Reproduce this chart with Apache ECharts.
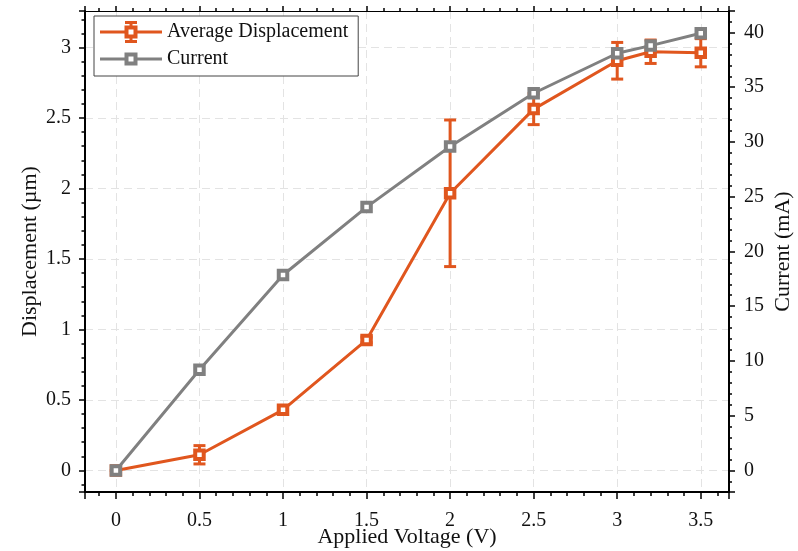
<!DOCTYPE html>
<html>
<head>
<meta charset="utf-8">
<script src="https://cdn.jsdelivr.net/npm/echarts@6/dist/echarts.min.js"></script>
<style>
html,body{margin:0;padding:0;background:#fff;}
#c{width:798px;height:551px;}
</style>
</head>
<body>
<div id="c"></div>
<script>
const voltage = [0, 0.5, 1, 1.5, 2, 2.5, 3, 3.2, 3.5];
const displacement = [0, 0.111, 0.43, 0.926, 1.966, 2.563, 2.906, 2.97, 2.963];
const displacementErr = [0, 0.065, 0.02, 0.02, 0.52, 0.11, 0.13, 0.083, 0.1];
const current = [0, 9.2, 17.85, 24.05, 29.58, 34.45, 38.1, 38.8, 39.93];
const xRange = [-0.185, 3.669];
const yLeftRange = [-0.153, 3.259];
const yRightRange = [-1.97, 41.96];

const ORANGE = '#E0561E';
const GRAY = '#808080';
const FONT = "'Liberation Serif', 'DejaVu Serif', serif";

// legend icons (line + open square, with error bar for displacement)
const ICON_ERR = 'path://' +
  'M0 9.5L24.5 9.5L24.5 12.5L0 12.5Z' +
  'M37.5 9.5L62 9.5L62 12.5L37.5 12.5Z' +
  'M29.5 3L32.5 3L32.5 4.5L29.5 4.5Z' +
  'M29.5 17.5L32.5 17.5L32.5 19L29.5 19Z' +
  'M25 0L37 0L37 3L25 3Z' +
  'M25 19L37 19L37 22L25 22Z' +
  'M24.5 4.5L37.5 4.5L37.5 17.5L24.5 17.5Z' +
  'M28.5 8.5L28.5 13.5L33.5 13.5L33.5 8.5Z';
const ICON_CUR = 'path://' +
  'M0 5L24.5 5L24.5 8L0 8Z' +
  'M37.5 5L62 5L62 8L37.5 8Z' +
  'M24.5 0L37.5 0L37.5 13L24.5 13Z' +
  'M28.5 4L28.5 9L33.5 9L33.5 4Z';

const chart = echarts.init(document.getElementById('c'), null, {renderer: 'canvas'});

const dispData = voltage.map((v, i) => [v, displacement[i]]);
const curData = voltage.map((v, i) => [v, current[i]]);
const errData = voltage.map((v, i) => [v, displacement[i] - displacementErr[i], displacement[i] + displacementErr[i]]);

const tickStyle = {color: '#000', width: 1.5};

chart.setOption({
  animation: false,
  backgroundColor: '#fff',
  grid: {left: 85, top: 11, width: 644, height: 481, show: false, containLabel: false, outerBoundsMode: 'none'},
  legend: {
    orient: 'vertical',
    left: 94, top: 16,
    width: 260,
    padding: [5, 10, 7, 6],
    itemGap: 6,
    itemWidth: 62, itemHeight: 22,
    symbolKeepAspect: true,
    borderColor: '#444', borderWidth: 1,
    backgroundColor: '#fff',
    textStyle: {fontFamily: FONT, fontSize: 20, color: '#111'},
    data: [
      {name: 'Average Displacement', icon: ICON_ERR, itemStyle: {color: ORANGE, borderWidth: 0}},
      {name: 'Current', icon: ICON_CUR, itemStyle: {color: GRAY, borderWidth: 0}}
    ]
  },
  xAxis: [{
    type: 'value', position: 'bottom',
    min: xRange[0], max: xRange[1], splitNumber: 8,
    name: 'Applied Voltage (V)', nameLocation: 'middle', nameGap: 34, nameMoveOverlap: false,
    nameTextStyle: {fontFamily: FONT, fontSize: 22, color: '#111'},
    axisLine: {show: true, onZero: false, lineStyle: {color: '#000', width: 2}},
    axisTick: {show: true, inside: false, length: 7, lineStyle: tickStyle},
    minorTick: {show: true, splitNumber: 5, length: 4, lineStyle: tickStyle},
    axisLabel: {show: true, margin: 19, showMinLabel: false, showMaxLabel: false,
      fontFamily: FONT, fontSize: 20, color: '#111'},
    splitLine: {show: true, lineStyle: {color: '#e3e3e3', width: 1, type: [8, 5]}}
  }, {
    type: 'value', position: 'top',
    min: xRange[0], max: xRange[1], splitNumber: 8,
    axisLine: {show: true, onZero: false, lineStyle: {color: '#000', width: 1}},
    axisTick: {show: true, inside: false, length: 5, lineStyle: tickStyle},
    minorTick: {show: true, splitNumber: 5, length: 3, lineStyle: tickStyle},
    axisLabel: {show: false},
    splitLine: {show: false}
  }],
  yAxis: [{
    type: 'value', position: 'left',
    min: yLeftRange[0], max: yLeftRange[1], splitNumber: 7,
    name: 'Displacement (µm)', nameLocation: 'middle', nameGap: 44, nameMoveOverlap: false,
    nameTextStyle: {fontFamily: FONT, fontSize: 22, color: '#111'},
    axisLine: {show: true, onZero: false, lineStyle: {color: '#000', width: 2}},
    axisTick: {show: true, inside: false, length: 6, lineStyle: tickStyle},
    minorTick: {show: true, splitNumber: 5, length: 3.5, lineStyle: tickStyle},
    axisLabel: {show: true, margin: 14, showMinLabel: false, showMaxLabel: false,
      fontFamily: FONT, fontSize: 20, color: '#111'},
    splitLine: {show: true, lineStyle: {color: '#e3e3e3', width: 1, type: [8, 5]}}
  }, {
    type: 'value', position: 'right',
    min: yRightRange[0], max: yRightRange[1], splitNumber: 8,
    alignTicks: false,
    name: 'Current (mA)', nameLocation: 'middle', nameGap: 43, nameRotate: 90, nameMoveOverlap: false,
    nameTextStyle: {fontFamily: FONT, fontSize: 22, color: '#111'},
    axisLine: {show: true, onZero: false, lineStyle: {color: '#000', width: 2}},
    axisTick: {show: true, inside: false, length: 6, lineStyle: tickStyle},
    minorTick: {show: true, splitNumber: 5, length: 3, lineStyle: tickStyle},
    axisLabel: {show: true, margin: 15, showMinLabel: false, showMaxLabel: false,
      fontFamily: FONT, fontSize: 20, color: '#111'},
    splitLine: {show: false}
  }],
  series: [{
    name: 'Average Displacement',
    type: 'line', xAxisIndex: 0, yAxisIndex: 0,
    data: dispData,
    symbol: 'rect', symbolSize: 8.5,
    lineStyle: {color: ORANGE, width: 3},
    itemStyle: {color: '#fff', borderColor: ORANGE, borderWidth: 4},
    z: 3
  }, {
    name: 'Average Displacement',
    type: 'custom', xAxisIndex: 0, yAxisIndex: 0,
    data: errData,
    renderItem: function (params, api) {
      const x = api.value(0);
      const lo = api.coord([x, api.value(1)]);
      const hi = api.coord([x, api.value(2)]);
      const half = 6;
      const st = {stroke: ORANGE, lineWidth: 3, fill: null};
      return {
        type: 'group',
        children: [
          {type: 'line', shape: {x1: lo[0], y1: lo[1], x2: hi[0], y2: hi[1]}, style: st},
          {type: 'line', shape: {x1: lo[0] - half, y1: lo[1], x2: lo[0] + half, y2: lo[1]}, style: st},
          {type: 'line', shape: {x1: hi[0] - half, y1: hi[1], x2: hi[0] + half, y2: hi[1]}, style: st}
        ]
      };
    },
    z: 2
  }, {
    name: 'Current',
    type: 'line', xAxisIndex: 0, yAxisIndex: 1,
    data: curData,
    symbol: 'rect', symbolSize: 8.5,
    lineStyle: {color: GRAY, width: 3},
    itemStyle: {color: '#fff', borderColor: GRAY, borderWidth: 4},
    z: 4
  }]
});
</script>
</body>
</html>
